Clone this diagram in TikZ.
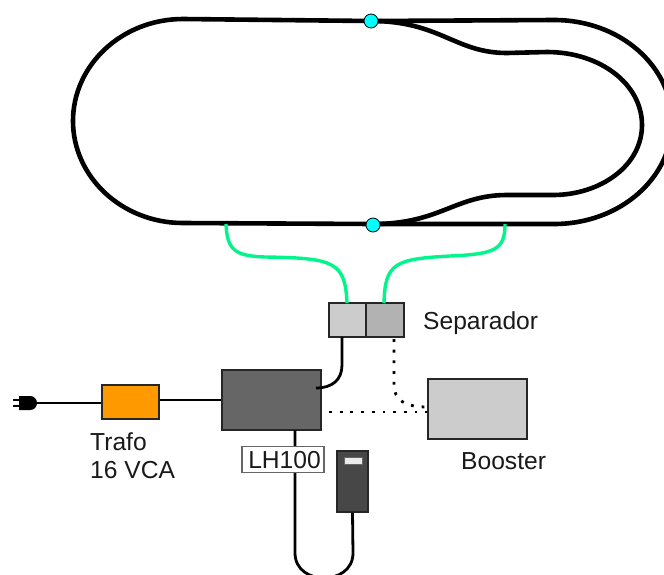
\documentclass[tikz,border=0pt]{standalone}
\usepackage{fontspec}
\setmainfont{Liberation Sans}
\definecolor{railgreen}{RGB}{0,245,138}
\definecolor{trafoorange}{RGB}{255,153,0}
\definecolor{jointcyan}{RGB}{0,255,255}
\tikzset{
    track/.style={line width=4.6pt, black},
    feeder/.style={line width=3.4pt, color=railgreen},
    cable/.style={line width=2.8pt, black},
    dotline/.style={line width=2.8pt, black, dash pattern=on 2.8pt off 7.9pt},
    unit/.style={draw=black!85, line width=1.2pt, inner sep=0pt},
    junction/.style={circle, draw=black, line width=0.8pt, fill=jointcyan, minimum size=14pt, inner sep=0pt},
    caption/.style={font=\fontsize{24.6}{27}\selectfont, inner sep=0pt, text=black!90}
}
\begin{document}
\begin{tikzpicture}[x=1pt, y=-1pt]
    \useasboundingbox (0,0) rectangle (664,574);
    \clip (0,0) rectangle (664,574);

    % Caixas
    \node[unit, fill=black!20, minimum width=37pt, minimum height=34pt] (sepa) at (347.5,320) {};
    \node[unit, fill=black!30, minimum width=38pt, minimum height=34pt] (sepb) at (385,320) {};
    \node[unit, fill=black!60, minimum width=99pt, minimum height=60pt] (central) at (271.5,400) {};
    \node[unit, fill=trafoorange, minimum width=57pt, minimum height=34pt] (trafo) at (130.5,402) {};
    \node[unit, fill=black!20, minimum width=99pt, minimum height=60pt] (booster) at (477.5,409) {};
    \node[unit, fill=black!72, minimum width=31pt, minimum height=61pt] (handheld) at (352.5,481.5) {};
    \node[draw=black!60, line width=0.6pt, fill=black!8, minimum width=18pt, minimum height=7pt, inner sep=0pt] (display) at (353,460.5) {};

    % Pontos de apoio
    \coordinate (plug) at (36,403);
    \coordinate (inmain) at (316,388);
    \coordinate (feedl) at (226,224);
    \coordinate (feedr) at (505,224);

    % Trilho externo
    \draw[track] (183,19) -- (371,21) -- (554,20)
        .. controls (620,20) and (672,66) .. (672,122)
        .. controls (672,178) and (620,224) .. (554,224)
        -- (373,224) -- (183,223)
        .. controls (122,223) and (73,177) .. (73,121)
        .. controls (73,65) and (122,19) .. (183,19) -- cycle;

    % Trilho interno
    \draw[track] (371,21) .. controls (440,21) and (455,53) .. (507,53)
        -- (547,52) .. controls (600,52) and (642,84) .. (642,125)
        .. controls (642,166) and (600,195) .. (553,195)
        -- (507,195) .. controls (455,195) and (440,224) .. (373,224);

    % Pontos azuis
    \node[junction] (jtop) at (371,21) {};
    \node[junction] (jbot) at (373,225) {};

    % Alimentadores
    \draw[feeder] (feedl) .. controls (227,250) and (235,256) .. (265,257)
        .. controls (335,258) and (345,262) .. (347,303);
    \draw[feeder] (feedr) .. controls (505,250) and (495,254) .. (450,256)
        .. controls (395,259) and (385,263) .. (384,303);

    % Cabos
    \draw[cable] (plug) -- (trafo.west |- plug);
    \draw[cable] (trafo.east |- central.west) -- (central.west);
    \draw[cable] (342,337) -- (342,365) .. controls (342,380) and (332,388) .. (inmain);
    \draw[cable] (295,430) -- (295,553) .. controls (295,570) and (310,578) .. (324,578)
        .. controls (338,578) and (353,570) .. (353,553) -- (handheld.south);

    % Pontilhado
    \draw[dotline] (394,339) -- (394,385) .. controls (394,400) and (405,407) .. (booster.west |- 0,407);
    \draw[dotline] (329,412) -- (booster.west |- 0,412);

    % Plugue
    \draw[line width=1.5pt] (13,400) -- (20,400) (13,406) -- (20,406);
    \fill[black] (19,396) -- (30,396) .. controls (34,396) and (37,399) .. (37,403)
        .. controls (37,407) and (34,410) .. (30,410) -- (19,410) -- cycle;

    % Textos
    \node[unit, draw=black!60, fill=white, minimum width=82pt, minimum height=26pt] (lh) at (283,459.5) {};
    \node[caption, anchor=base] (lhtext) at (284.5,468) {LH100};
    \node[caption, anchor=base west] (seplabel) at (423,329) {Separador};
    \node[caption, anchor=base west] (boostlabel) at (461,469) {Booster};
    \node[caption, anchor=base west] (traflabel) at (90,450) {Trafo};
    \node[caption, anchor=base west] (vcalabel) at (90,478) {16 VCA};
\end{tikzpicture}
\end{document}
